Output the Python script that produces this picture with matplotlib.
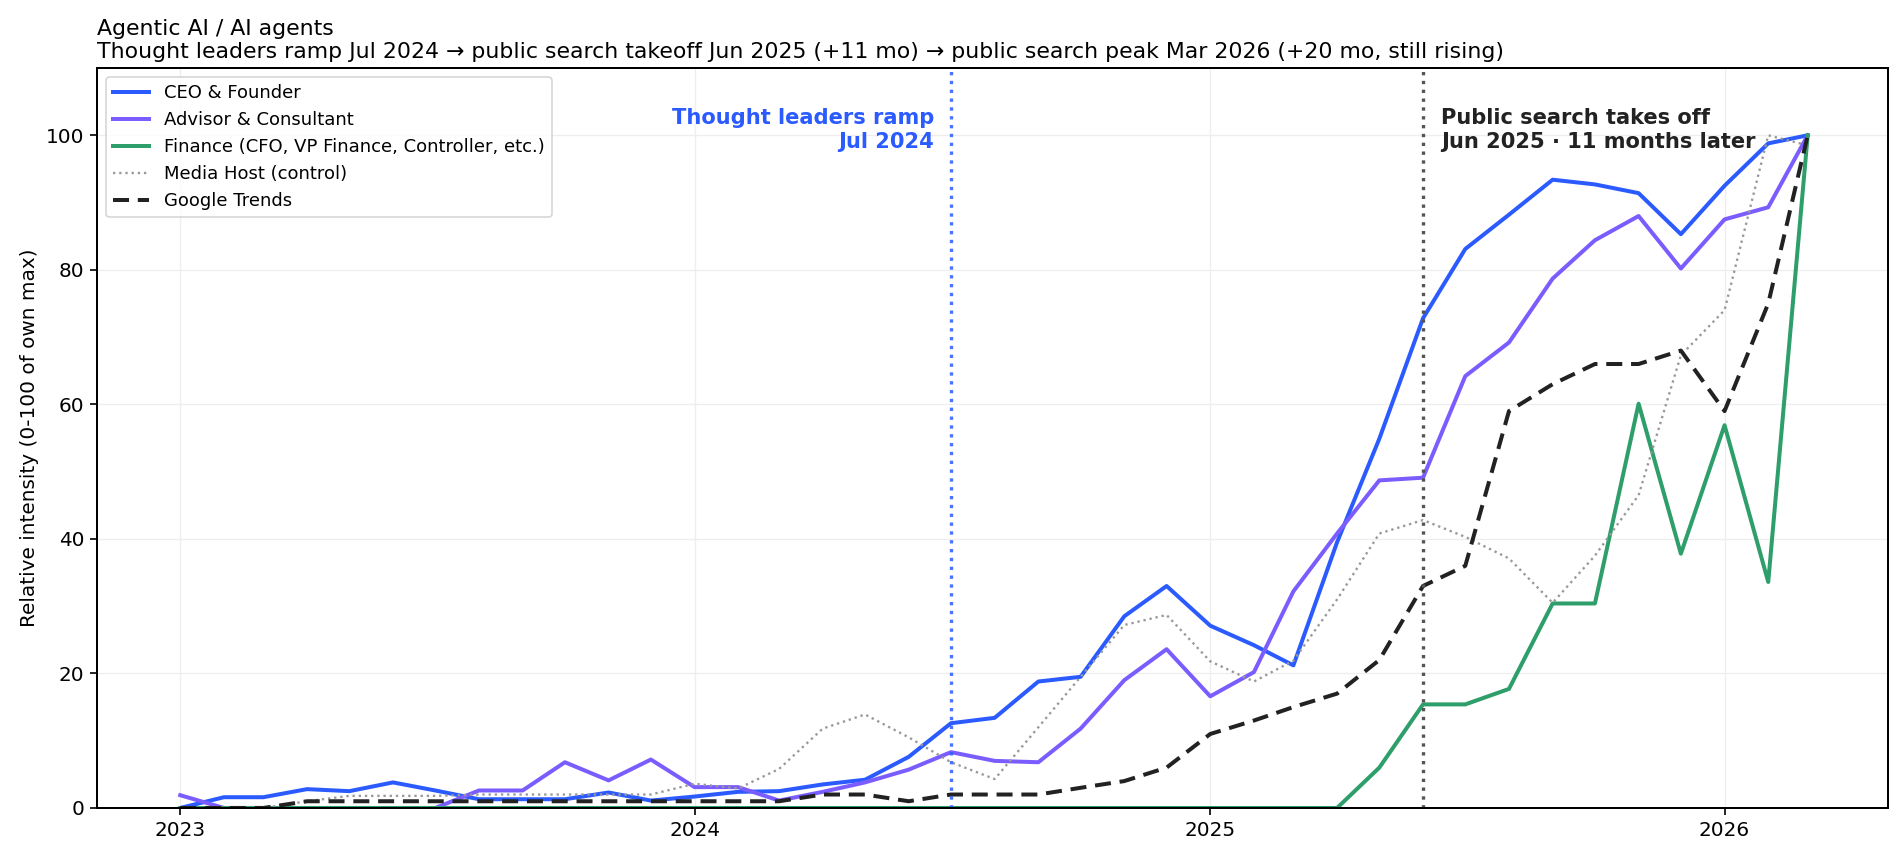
import datetime as dt
import pandas as pd
import matplotlib
matplotlib.use("Agg")
import matplotlib.pyplot as plt
import matplotlib.dates as mdates

# monthly series, Jan 2023 .. Mar 2026 (each scaled 0-100 of its own max)
months = pd.date_range("2023-01-01", "2026-03-01", freq="MS")

ceo_founder = [
    0, 1.6, 1.6, 2.8, 2.5, 3.8, 2.6, 1.3, 1.3, 1.3, 2.3, 1.1,
    1.7, 2.4, 2.5, 3.5, 4.2, 7.6, 12.6, 13.4, 18.8, 19.5, 28.5, 33.0,
    27.1, 24.2, 21.2, 39.5, 54.9, 72.8, 83.1, 88.2, 93.4, 92.7, 91.4, 85.3,
    92.5, 98.8, 100,
]
advisor_consultant = [
    1.9, 0, 0, 0, 0, 0, 0, 2.6, 2.6, 6.8, 4.1, 7.2,
    3.1, 3.1, 1.1, 2.4, 3.8, 5.7, 8.3, 7.0, 6.8, 11.8, 19.0, 23.6,
    16.6, 20.2, 32.2, 40.8, 48.7, 49.1, 64.2, 69.2, 78.7, 84.4, 88.0, 80.2,
    87.5, 89.3, 100,
]
finance = [
    0, 0, 0, 0, 0, 0, 0, 0, 0, 0, 0, 0,
    0, 0, 0, 0, 0, 0, 0, 0, 0, 0, 0, 0,
    0, 0, 0, 0, 6.0, 15.4, 15.4, 17.7, 30.4, 30.4, 60.1, 37.8,
    56.9, 33.6, 100,
]
media_host = [
    0, 0, 0, 1.0, 1.8, 1.8, 1.8, 2.0, 2.0, 2.0, 2.0, 2.0,
    3.6, 2.9, 5.8, 11.8, 13.9, 10.5, 6.8, 4.3, 12.0, 19.5, 27.2, 28.7,
    21.8, 18.8, 21.9, 31.0, 40.8, 42.8, 40.3, 37.1, 30.5, 37.5, 46.5, 67.3,
    74.0, 100, 98.5,
]
google_trends = [
    0, 0, 0, 1, 1, 1, 1, 1, 1, 1, 1, 1,
    1, 1, 1, 2, 2, 1, 2, 2, 2, 3, 4, 6,
    11, 13, 15, 17, 22, 33, 36, 59, 63, 66, 66, 68,
    59, 75, 100,
]

ramp_date = dt.datetime(2024, 7, 1)
takeoff_date = dt.datetime(2025, 6, 1)

BLUE = "#2b5bff"
PURPLE = "#7b5cff"
GREEN = "#2e9e6b"

fig = plt.figure(figsize=(1904 / 120, 859 / 120), dpi=120)
ax = fig.add_axes([0.051, 0.0594, 0.9406, 0.8614])

ax.plot(months, ceo_founder, color=BLUE, lw=2.4, label="CEO & Founder")
ax.plot(months, advisor_consultant, color=PURPLE, lw=2.4, label="Advisor & Consultant")
ax.plot(months, finance, color=GREEN, lw=2.4,
        label="Finance (CFO, VP Finance, Controller, etc.)")
ax.plot(months, media_host, color="#999999", lw=1.4, ls=":", label="Media Host (control)")
ax.plot(months, google_trends, color="#222222", lw=2.4, ls=(0, (4, 2.2)), label="Google Trends")

ax.axvline(ramp_date, color=BLUE, lw=2, ls=":", alpha=0.85)
ax.axvline(takeoff_date, color="#555555", lw=2, ls=":")

ax.annotate("Thought leaders ramp\nJul 2024", xy=(ramp_date, 104), xytext=(-10, 0),
            textcoords="offset points", ha="right", va="top",
            fontsize=12.6, fontweight="bold", color=BLUE)
ax.annotate("Public search takes off\nJun 2025 · 11 months later", xy=(takeoff_date, 104),
            xytext=(11, 0), textcoords="offset points", ha="left", va="top",
            fontsize=12.6, fontweight="bold", color="#222222")

ax.set_ylim(0, 110)
ax.set_xlim(dt.datetime(2022, 11, 3), dt.datetime(2026, 4, 27))
ax.xaxis.set_major_locator(mdates.YearLocator())
ax.xaxis.set_major_formatter(mdates.DateFormatter("%Y"))
ax.tick_params(labelsize=12, length=4.2, width=1)
ax.grid(True, color="#eeeeee", lw=0.8)
ax.set_axisbelow(True)
for s in ax.spines.values():
    s.set_linewidth(1.2)

ax.set_ylabel("Relative intensity (0-100 of own max)", fontsize=12)
ax.set_title("Agentic AI / AI agents\n"
             "Thought leaders ramp Jul 2024 → public search takeoff Jun 2025 (+11 mo) "
             "→ public search peak Mar 2026 (+20 mo, still rising)",
             loc="left", fontsize=13.2)
ax.legend(loc="upper left", fontsize=10.8)

fig.savefig("out.png", dpi=120)
